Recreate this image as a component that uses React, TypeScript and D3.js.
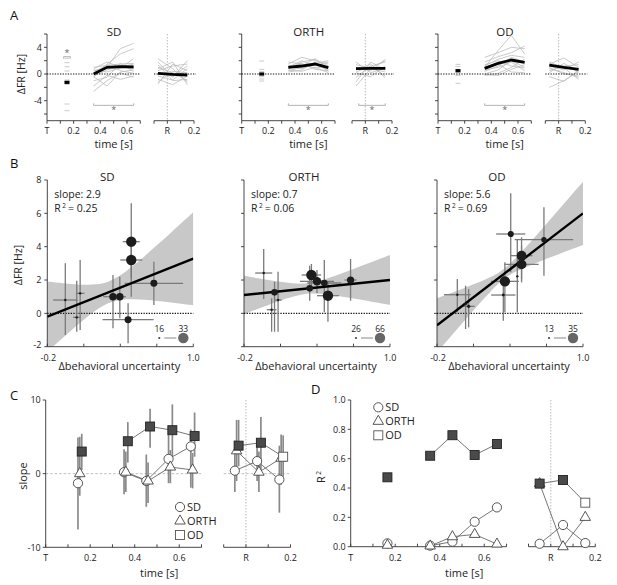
import React from 'react';
import * as d3 from 'd3';

const FONT = "'Open Sans', 'Noto Sans', sans-serif";

// ---------------- Panel A data ----------------
const aTimes = [0.35, 0.45, 0.55, 0.65];
const aRTimes = [-0.07, 0.04, 0.15];
const aCueTime = 0.15;

const sdCueDashes = [2.35, 1.7, 1.1, 0.45, -0.9, -1.15, -1.55, -4.5, -5.5];
const sdCueMean = -1.25;
const sdLines = [
  [0.5, 1.0, 3.8, 4.6], [-0.5, 1.5, 3.0, 3.8], [1.0, 1.3, 1.5, 1.6], [0.8, 1.8, 1.0, 1.5],
  [-0.3, 0.6, 1.2, 1.2], [-1.0, -0.5, 1.6, 0.4], [-2.6, -1.0, 0.2, -0.5], [-1.8, -0.2, -0.8, -0.3],
  [0.2, 1.4, 0.5, 0.1], [-0.4, -1.8, 0.3, 0.6], [0.6, 0.3, 0.9, 2.3],
];
const sdMean = [0.0, 1.0, 1.1, 1.05];
const sdRLines = [
  [1.8, -0.5, 2.0], [2.3, 0.8, -1.2], [-1.5, 1.5, 0.5], [0.5, 1.2, 1.5], [-0.8, -1.6, -0.3],
  [1.0, 0.2, -1.0], [-0.3, -0.9, 0.8], [0.8, 1.8, -1.6], [-1.2, 0.4, 0.2], [0.2, -0.3, 1.2], [1.4, -1.0, -0.8],
];
const sdRMean = [0.1, -0.05, -0.15];

const orthCueDashes = [1.95, 0.7, 0.35, -0.4, -0.75, -1.05];
const orthCueMean = 0.0;
const orthLines = [
  [1.5, 2.5, 2.0, 1.5], [0.8, 1.8, 2.2, 1.2], [1.2, 0.8, 1.6, 2.0], [0.5, 1.0, 1.4, 0.6],
  [1.8, 1.5, 0.9, 1.1], [0.3, 0.6, 1.8, 0.4], [1.0, 2.0, 1.2, 1.8], [0.6, 0.4, 1.0, 0.2],
  [1.3, 1.2, 2.3, 0.8], [0.9, 1.6, 0.7, 0.5],
];
const orthMean = [1.0, 1.2, 1.5, 0.95];
const orthRLines = [
  [1.0, 0.5, 2.2], [-1.8, 0.8, 0.3], [0.6, 1.5, -0.6], [-0.5, 1.2, 1.8], [1.8, 0.2, 0.9],
  [0.2, -0.4, 1.2], [-1.2, 1.8, 0.6], [1.4, 0.9, 2.0], [0.3, 1.2, -0.3],
];
const orthRMean = [0.8, 0.85, 0.85];

const odCueDashes = [1.45, 1.1, 0.7, 0.2, -0.2, -1.4];
const odCueMean = 0.5;
const odLines = [
  [1.0, 3.5, 5.8, 3.0], [2.5, 3.2, 4.0, 3.8], [1.8, 2.6, 3.2, 4.2], [0.4, 1.2, 2.5, 1.8],
  [-0.2, 0.1, 1.0, 2.2], [1.4, 2.0, 1.2, 0.9], [0.0, 0.6, 2.0, 1.0], [0.8, 1.5, 0.3, 0.2],
  [-0.1, -0.2, 0.7, 1.4], [0.6, 1.0, 1.8, 0.5], [1.2, 2.2, 2.8, 2.5],
];
const odMean = [0.85, 1.6, 2.1, 1.75];
const odRLines = [
  [1.5, 2.4, 1.0], [-2.0, -1.0, 0.4], [0.8, 0.2, -0.5], [1.2, 0.6, 1.8], [0.2, 1.6, 0.2],
  [1.8, 0.9, -0.8], [-0.4, -1.1, 0.6], [0.5, 1.2, 1.4], [1.0, 0.0, -0.3],
];
const odRMean = [1.35, 1.0, 0.7];

const aYTicks = [-6, -4, -2, 0, 2, 4, 6];
const aYLabels = [-4, 0, 4];
const aXTicks = [0, 0.1, 0.2, 0.3, 0.4, 0.5, 0.6, 0.7];
const aXLabels = [{ v: 0, t: 'T' }, { v: 0.2, t: '0.2' }, { v: 0.4, t: '0.4' }, { v: 0.6, t: '0.6' }];
const aRTicks = [-0.1, 0, 0.1, 0.2];
const aRLabels = [{ v: 0, t: 'R' }, { v: 0.2, t: '0.2' }];

// ---------------- Panel B data ----------------
const bBandX = [-0.2, -0.1, 0, 0.1, 0.2, 0.3, 0.4, 0.5, 0.6, 0.7, 0.8, 0.9, 1.0];

const sdBandUpper = [1.91, 1.83, 1.76, 1.72, 1.74, 1.9, 2.28, 2.82, 3.43, 4.08, 4.73, 5.4, 6.07];
const sdBandLower = [-2.31, -1.65, -1.0, -0.38, 0.18, 0.6, 0.8, 0.84, 0.81, 0.74, 0.67, 0.58, 0.49];
const sdFitEnds = [-0.2, 3.28];
const sdPtX = [-0.052, 0.042, 0.07, 0.34, 0.396, 0.49, 0.49, 0.676, 0.464];
const sdPtY = [0.8, -0.24, 1.2, 1.0, 1.0, 4.3, 3.2, 1.8, -0.38];
const sdPtXErr = [0.1, 0.03, 0.035, 0.08, 0.05, 0.07, 0.09, 0.24, 0.21];
const sdPtYLo = [-1.3, -1.1, -1.0, -0.9, -0.3, 2.1, 1.0, 0.5, -1.8];
const sdPtYHi = [3.0, 1.95, 3.2, 2.3, 2.2, 6.6, 4.5, 3.1, 0.6];
const sdPtN = [16, 16, 16, 26, 26, 33, 33, 25, 25];

const orthBandUpper = [2.25, 2.12, 2.0, 1.89, 1.8, 1.79, 1.91, 2.13, 2.39, 2.66, 2.94, 3.22, 3.5];
const orthBandLower = [-0.05, 0.23, 0.5, 0.77, 1.0, 1.16, 1.19, 1.12, 1.01, 0.89, 0.77, 0.63, 0.5];
const orthFitEnds = [1.1, 2.0];
const orthPtX = [-0.038, 0.051, 0.027, 0.08, 0.34, 0.354, 0.40, 0.46, 0.49, 0.676];
const orthPtY = [2.42, 1.26, 0.22, 0.8, 1.5, 2.3, 1.92, 1.82, 1.06, 2.0];
const orthPtXErr = [0.07, 0.03, 0.04, 0.03, 0.03, 0.08, 0.14, 0.14, 0.09, 0.05];
const orthPtYLo = [0.86, -1.1, -1.1, -1.1, 0.76, 1.5, 1.2, 0.06, -0.5, 0.76];
const orthPtYHi = [3.86, 1.9, 0.9, 2.5, 2.86, 2.96, 2.6, 3.2, 1.9, 3.26];
const orthPtN = [26, 45, 26, 26, 45, 66, 55, 45, 66, 48];

const odBandUpper = [0.9, 1.17, 1.45, 1.74, 2.05, 2.41, 2.97, 3.73, 4.54, 5.37, 6.21, 7.06, 7.9];
const odBandLower = [-2.33, -1.49, -0.65, 0.18, 0.99, 1.75, 2.31, 2.67, 2.98, 3.27, 3.55, 3.83, 4.1];
const odFitEnds = [-0.72, 6.0];
const odPtX = [-0.033, 0.035, 0.06, 0.358, 0.345, 0.406, 0.46, 0.495, 0.495, 0.679];
const odPtY = [1.12, 0.56, 0.42, 1.92, 1.1, 4.76, 2.22, 3.46, 2.94, 4.42];
const odPtXErr = [0.11, 0.02, 0.05, 0.115, 0.1, 0.12, 0.0, 0.09, 0.14, 0.24];
const odPtYLo = [0.06, -0.94, -0.84, 0.06, -0.44, 2.46, 0.06, 2.06, 1.86, 2.26];
const odPtYHi = [2.06, 1.66, 1.46, 3.06, 2.36, 7.2, 4.46, 4.56, 4.06, 6.36];
const odPtN = [13, 13, 15, 35, 14, 22, 13, 33, 33, 20];

const bYTicks = [-2, 0, 2, 4, 6, 8];
const bXTicks = [-0.2, 0.1, 0.4, 0.7, 1.0];

// ---------------- Panel C data (slope) ----------------
const cTimesT = [0.145, 0.352, 0.452, 0.552, 0.652];
const cTimesR = [-0.05, 0.05, 0.15];
const sdSlopeT = [-1.3, 0.2, -1.0, 2.0, 3.7];
const sdSlopeR = [0.4, 1.7, -0.8];
const sdSlopeLoT = [-7.6, -2.8, -4.5, -1.3, -1.9];
const sdSlopeHiT = [4.9, 3.3, 2.6, 5.3, 6.0];
const sdSlopeLoR = [-2.5, -1.0, -5.3];
const sdSlopeHiR = [4.5, 4.0, 3.8];
const orthSlopeT = [0.0, 0.2, -1.0, 0.9, 0.5];
const orthSlopeR = [3.1, 0.2, 2.1];
const orthSlopeLoT = [-3.0, -2.5, -4.0, -1.3, -2.0];
const orthSlopeHiT = [5.0, 3.0, 1.5, 3.2, 2.8];
const orthSlopeLoR = [-1.0, -2.5, -1.5];
const orthSlopeHiR = [7.3, 3.0, 5.3];
const odSlopeT = [3.0, 4.4, 6.4, 5.9, 5.1];
const odSlopeR = [3.8, 4.2, 2.3];
const odSlopeLoT = [0.5, 1.5, 3.5, 2.4, 2.3];
const odSlopeHiT = [5.4, 7.0, 8.8, 9.4, 8.3];
const odSlopeLoR = [1.0, 0.5, -0.5];
const odSlopeHiR = [7.3, 7.7, 5.2];
const odFilledT = [true, true, true, true, true];
const odFilledR = [true, true, false];

// ---------------- Panel D data (R²) ----------------
const dTimesT = [0.165, 0.357, 0.457, 0.557, 0.657];
const dTimesR = [-0.05, 0.055, 0.155];
const sdR2T = [0.023, 0.007, 0.034, 0.17, 0.268];
const sdR2R = [0.02, 0.148, 0.025];
const orthR2T = [0.01, 0.005, 0.068, 0.084, 0.018];
const orthR2R = [0.43, 0.0, 0.2];
const odR2T = [0.473, 0.62, 0.76, 0.625, 0.7];
const odR2R = [0.43, 0.455, 0.3];

const legendNames = ['SD', 'ORTH', 'OD'];

// ---------------- helpers ----------------
const TICK_COLOR = '#333';
const GRAY_LINE = '#bdbdbd';

function Marker({ kind, x, y, filled }: { kind: string; x: number; y: number; filled?: boolean }) {
  const stroke = '#444';
  if (kind === 'circle') {
    return <circle cx={x} cy={y} r={4.6} fill="#fff" stroke={stroke} strokeWidth={0.9} />;
  }
  if (kind === 'triangle') {
    const s = 10.5;
    const pts = [
      [x, y - s * 0.577],
      [x - s / 2, y + s * 0.289],
      [x + s / 2, y + s * 0.289],
    ];
    return <polygon points={pts.map((p) => p.join(',')).join(' ')} fill="#fff" stroke={stroke} strokeWidth={0.9} />;
  }
  const s = 9;
  return (
    <rect x={x - s / 2} y={y - s / 2} width={s} height={s} fill={filled ? '#4a4a4a' : '#fff'}
      stroke={filled ? '#222' : '#555'} strokeWidth={0.9} />
  );
}

// ---------------- Panel A ----------------
function PanelA(props: any) {
  const { left, gap, title, cueDashes, cueMean, lines, mean, rLines, rMean, showY, cueBracket, rBracket } = props;
  const y = d3.scaleLinear().domain([-7, 6]).range([120.7, 34]);
  const xT = d3.scaleLinear().domain([0, 0.7]).range([left, left + 93.3]);
  const r0 = left + 93.3 + gap;
  const xR = d3.scaleLinear().domain([-0.1, 0.2]).range([r0, r0 + 40]);
  const lineT = d3.line<number>().x((_, i) => xT(aTimes[i])).y((v) => y(v));
  const lineR = d3.line<number>().x((_, i) => xR(aRTimes[i])).y((v) => y(v));
  const axisY = y(-7);
  const bracketY = y(-4.7);
  return (
    <g>
      <text x={left + 67} y={36} fontSize={11.5} textAnchor="middle" fill="#222">{title}</text>
      {/* y axis */}
      <line x1={left} x2={left} y1={y(6)} y2={axisY} stroke={TICK_COLOR} strokeWidth={0.9} />
      {aYTicks.map((t) => (
        <line key={t} x1={left - 3} x2={left} y1={y(t)} y2={y(t)} stroke={TICK_COLOR} strokeWidth={0.9} />
      ))}
      {showY && aYLabels.map((t) => (
        <text key={t} x={left - 5} y={y(t) + 3.3} fontSize={9} textAnchor="end" fill="#222">{t}</text>
      ))}
      {showY && (
        <text transform={`translate(${left - 22},${y(0)}) rotate(-90)`} fontSize={10.5} textAnchor="middle" fill="#222">ΔFR [Hz]</text>
      )}
      {/* x axes */}
      <line x1={xT(0)} x2={xT(0.7)} y1={axisY} y2={axisY} stroke={TICK_COLOR} strokeWidth={0.9} />
      {aXTicks.map((t) => (
        <line key={t} x1={xT(t)} x2={xT(t)} y1={axisY} y2={axisY + 3} stroke={TICK_COLOR} strokeWidth={0.9} />
      ))}
      {aXLabels.map((l) => (
        <text key={l.t} x={xT(l.v)} y={134} fontSize={9} textAnchor="middle" fill="#222">{l.t}</text>
      ))}
      <line x1={xR(-0.1)} x2={xR(0.2)} y1={axisY} y2={axisY} stroke={TICK_COLOR} strokeWidth={0.9} />
      {aRTicks.map((t) => (
        <line key={t} x1={xR(t)} x2={xR(t)} y1={axisY} y2={axisY + 3} stroke={TICK_COLOR} strokeWidth={0.9} />
      ))}
      {aRLabels.map((l) => (
        <text key={l.t} x={xR(l.v)} y={134} fontSize={9} textAnchor="middle" fill="#222">{l.t}</text>
      ))}
      <text x={xT(0.5)} y={147.5} fontSize={11} textAnchor="middle" fill="#222">time  [s]</text>
      {/* R marker */}
      <line x1={xR(0)} x2={xR(0)} y1={y(6)} y2={axisY} stroke="#aaa" strokeWidth={0.8} strokeDasharray="1.5,1.5" />
      {/* cue dashes */}
      {cueDashes.map((v: number, i: number) => (
        <line key={i} x1={xT(aCueTime) - 2.5} x2={xT(aCueTime) + 2.5} y1={y(v)} y2={y(v)} stroke="#c4c4c4" strokeWidth={0.9} />
      ))}
      {/* gray session lines */}
      {lines.map((l: number[], i: number) => (
        <path key={i} d={lineT(l) || ''} fill="none" stroke={GRAY_LINE} strokeWidth={0.8} />
      ))}
      {rLines.map((l: number[], i: number) => (
        <path key={i} d={lineR(l) || ''} fill="none" stroke={GRAY_LINE} strokeWidth={0.8} />
      ))}
      {/* zero lines */}
      <line x1={xT(0)} x2={xT(0.7)} y1={y(0)} y2={y(0)} stroke="#111" strokeWidth={1.1} strokeDasharray="1.3,1.3" />
      <line x1={xR(-0.1)} x2={xR(0.2) + 2} y1={y(0)} y2={y(0)} stroke="#111" strokeWidth={1.1} strokeDasharray="1.3,1.3" />
      {/* mean lines */}
      <path d={lineT(mean) || ''} fill="none" stroke="#000" strokeWidth={2.8} />
      <path d={lineR(rMean) || ''} fill="none" stroke="#000" strokeWidth={2.8} />
      <rect x={xT(aCueTime) - 2.5} y={y(cueMean) - 1.6} width={5} height={3.2} fill="#000" />
      {/* significance brackets */}
      <path d={`M${xT(0.35)},${bracketY - 2}V${bracketY}H${xT(0.65)}V${bracketY - 2}`} fill="none" stroke="#aaa" strokeWidth={0.9} />
      <text x={xT(0.5)} y={y(-5.3) + 4} fontSize={9} textAnchor="middle" fill="#666">*</text>
      {rBracket && (
        <g>
          <path d={`M${xR(-0.05)},${bracketY - 2}V${bracketY}H${xR(0.15)}V${bracketY - 2}`} fill="none" stroke="#aaa" strokeWidth={0.9} />
          <text x={xR(0.05)} y={y(-5.3) + 4} fontSize={9} textAnchor="middle" fill="#666">*</text>
        </g>
      )}
      {cueBracket && (
        <g>
          <path d={`M${xT(0.125)},${y(2.6) + 2}V${y(2.6)}H${xT(0.175)}V${y(2.6) + 2}`} fill="none" stroke="#aaa" strokeWidth={0.9} />
          <text x={xT(aCueTime)} y={y(3.3) + 4} fontSize={9} textAnchor="middle" fill="#666">*</text>
        </g>
      )}
    </g>
  );
}

// ---------------- Panel B ----------------
function PanelB(props: any) {
  const { left, title, slope, r2, upper, lower, fitEnds, px, py, pxe, pylo, pyhi, pn, nLegend, showY, id } = props;
  const width = 146;
  const y = d3.scaleLinear().domain([-2, 8]).range([346.7, 180]);
  const x = d3.scaleLinear().domain([-0.2, 1.0]).range([left, left + width]);
  const rScale = d3.scaleSqrt().domain(nLegend).range([1.2, 5.2]).clamp(true);
  const area = d3.area<number>()
    .x((_, i) => x(bBandX[i]))
    .y0((_, i) => y(lower[i]))
    .y1((_, i) => y(upper[i]))
    .curve(d3.curveCatmullRom);
  const clipId = `clipB${id}`;
  const idx = d3.range(px.length);
  return (
    <g>
      <defs>
        <clipPath id={clipId}>
          <rect x={left} y={y(8)} width={width} height={y(-2) - y(8)} />
        </clipPath>
      </defs>
      <text x={left + 60} y={181} fontSize={11.5} textAnchor="middle" fill="#222">{title}</text>
      <g clipPath={`url(#${clipId})`}>
        <path d={area(upper) || ''} fill="#c8c8c8" />
      </g>
      {/* axes */}
      <line x1={left} x2={left} y1={y(8)} y2={y(-2)} stroke={TICK_COLOR} strokeWidth={0.9} />
      {bYTicks.map((t) => (
        <line key={t} x1={left - 3} x2={left} y1={y(t)} y2={y(t)} stroke={TICK_COLOR} strokeWidth={0.9} />
      ))}
      {showY && bYTicks.map((t) => (
        <text key={t} x={left - 6} y={y(t) + (t === -2 ? 1.5 : 3.3)} fontSize={9} textAnchor="end" fill="#222">{t}</text>
      ))}
      {showY && (
        <text transform={`translate(${left - 25},${265}) rotate(-90)`} fontSize={10.5} textAnchor="middle" fill="#222">ΔFR [Hz]</text>
      )}
      <line x1={left} x2={left + width} y1={y(-2)} y2={y(-2)} stroke={TICK_COLOR} strokeWidth={0.9} />
      {bXTicks.map((t) => (
        <line key={t} x1={x(t)} x2={x(t)} y1={y(-2)} y2={y(-2) - 3} stroke={TICK_COLOR} strokeWidth={0.9} />
      ))}
      <text x={x(-0.2) + 1} y={361} fontSize={9} textAnchor="middle" fill="#222">-0.2</text>
      <text x={x(1.0)} y={361} fontSize={9} textAnchor="middle" fill="#222">1.0</text>
      <text x={left + 72} y={369.5} fontSize={11} textAnchor="middle" fill="#222">Δbehavioral uncertainty</text>
      {/* zero line */}
      <line x1={left} x2={left + width} y1={y(0)} y2={y(0)} stroke="#111" strokeWidth={1.1} strokeDasharray="1.3,1.3" />
      {/* error bars */}
      {idx.map((i) => (
        <g key={i} stroke="#7a7a7a" strokeWidth={1.3}>
          <line x1={x(px[i])} x2={x(px[i])} y1={y(pylo[i])} y2={y(pyhi[i])} />
          {pxe[i] > 0 && <line x1={x(px[i] - pxe[i])} x2={x(px[i] + pxe[i])} y1={y(py[i])} y2={y(py[i])} />}
        </g>
      ))}
      {/* fit line */}
      <g clipPath={`url(#${clipId})`}>
        <line x1={x(-0.2)} x2={x(1.0)} y1={y(fitEnds[0])} y2={y(fitEnds[1])} stroke="#000" strokeWidth={2.4} />
      </g>
      {/* points */}
      {idx.map((i) => (
        <circle key={i} cx={x(px[i])} cy={y(py[i])} r={rScale(pn[i])} fill="#1c1c1c" />
      ))}
      {/* stats */}
      <text x={left + 7} y={198} fontSize={10.5} fill="#222">slope: {slope}</text>
      <text x={left + 7} y={211.5} fontSize={10.5} fill="#222">
        R<tspan fontSize={6.5} dx={1.5} dy={-4}>2</tspan><tspan dy={4} dx={2}>= {r2}</tspan>
      </text>
      {/* size legend */}
      <text x={left + 112} y={332} fontSize={8.5} textAnchor="middle" fill="#222">{nLegend[0]}</text>
      <text x={left + 136} y={332} fontSize={8.5} textAnchor="middle" fill="#222">{nLegend[1]}</text>
      <circle cx={left + 112} cy={338} r={1.1} fill="#444" />
      <line x1={left + 117} x2={left + 129} y1={338} y2={338} stroke="#888" strokeWidth={1} />
      <circle cx={left + 136} cy={338} r={5.2} fill="#666" />
    </g>
  );
}

// ---------------- Panels C and D ----------------
function TimePanel(props: any) {
  const { left, xT, xR, y, yTicks, yTickLabels, yLabel, hLine, series, legendPos, errors } = props;
  const axisY = y.range()[0];
  const topY = y.range()[1];
  const tTicks = [0, 0.1, 0.2, 0.3, 0.4, 0.5, 0.6, 0.7];
  const rTicks = [-0.1, 0, 0.1, 0.2];
  return (
    <g>
      {hLine && (
        <g stroke="#b5b5b5" strokeWidth={0.9} strokeDasharray="2.5,2">
          <line x1={xT(0)} x2={xT(0.7)} y1={y(0)} y2={y(0)} />
          <line x1={xR(-0.1)} x2={xR(0.2)} y1={y(0)} y2={y(0)} />
        </g>
      )}
      <line x1={xR(0)} x2={xR(0)} y1={topY} y2={axisY} stroke="#aaa" strokeWidth={0.8} strokeDasharray="1.5,1.5" />
      {/* axes */}
      <line x1={left} x2={left} y1={topY} y2={axisY} stroke={TICK_COLOR} strokeWidth={0.9} />
      {yTicks.map((t: number, i: number) => (
        <g key={t}>
          <line x1={left - 3} x2={left} y1={y(t)} y2={y(t)} stroke={TICK_COLOR} strokeWidth={0.9} />
          <text x={left - 5} y={y(t) + 3.3} fontSize={9} textAnchor="end" fill="#222">{yTickLabels[i]}</text>
        </g>
      ))}
      <line x1={xT(0)} x2={xT(0.7)} y1={axisY} y2={axisY} stroke={TICK_COLOR} strokeWidth={0.9} />
      {tTicks.map((t) => (
        <line key={t} x1={xT(t)} x2={xT(t)} y1={axisY} y2={axisY - 3} stroke={TICK_COLOR} strokeWidth={0.9} />
      ))}
      <line x1={xR(-0.1)} x2={xR(0.2)} y1={axisY} y2={axisY} stroke={TICK_COLOR} strokeWidth={0.9} />
      {rTicks.map((t) => (
        <line key={t} x1={xR(t)} x2={xR(t)} y1={axisY} y2={axisY - 3} stroke={TICK_COLOR} strokeWidth={0.9} />
      ))}
      {aXLabels.map((l) => (
        <text key={l.t} x={xT(l.v)} y={561} fontSize={9} textAnchor="middle" fill="#222">{l.t}</text>
      ))}
      {aRLabels.map((l) => (
        <text key={l.t} x={xR(l.v)} y={561} fontSize={9} textAnchor="middle" fill="#222">{l.t}</text>
      ))}
      <text x={xT(0.51)} y={577} fontSize={11} textAnchor="middle" fill="#222">time  [s]</text>
      {yLabel}
      {/* error bars */}
      {errors && series.map((s: any, si: number) => (
        <g key={si} stroke="#8a8a8a" strokeWidth={1.7}>
          {s.tVals.map((_: number, i: number) => (
            <line key={'t' + i} x1={xT(s.tTimes[i])} x2={xT(s.tTimes[i])} y1={y(s.tLo[i])} y2={y(s.tHi[i])} />
          ))}
          {s.rVals.map((_: number, i: number) => (
            <line key={'r' + i} x1={xR(s.rTimes[i])} x2={xR(s.rTimes[i])} y1={y(s.rLo[i])} y2={y(s.rHi[i])} />
          ))}
        </g>
      ))}
      {/* connecting lines */}
      {series.map((s: any, si: number) => {
        const lt = d3.line<number>().x((_, i) => xT(s.tTimes[i + 1])).y((v) => y(v));
        const lr = d3.line<number>().x((_, i) => xR(s.rTimes[i])).y((v) => y(v));
        return (
          <g key={si} fill="none" stroke="#666" strokeWidth={0.9}>
            <path d={lt(s.tVals.slice(1)) || ''} />
            <path d={lr(s.rVals) || ''} />
          </g>
        );
      })}
      {/* markers */}
      {series.map((s: any, si: number) => (
        <g key={si}>
          {s.tVals.map((v: number, i: number) => (
            <Marker key={'t' + i} kind={s.kind} x={xT(s.tTimes[i])} y={y(v)} filled={s.tFilled ? s.tFilled[i] : false} />
          ))}
          {s.rVals.map((v: number, i: number) => (
            <Marker key={'r' + i} kind={s.kind} x={xR(s.rTimes[i])} y={y(v)} filled={s.rFilled ? s.rFilled[i] : false} />
          ))}
        </g>
      ))}
      {/* legend */}
      {['circle', 'triangle', 'square'].map((k, i) => (
        <g key={k}>
          <Marker kind={k} x={legendPos[0]} y={legendPos[1] + i * 14} filled={false} />
          <text x={legendPos[0] + 7} y={legendPos[1] + i * 14 + 4} fontSize={11} fill="#222">{legendNames[i]}</text>
        </g>
      ))}
    </g>
  );
}

export default function App() {
  const cY = d3.scaleLinear().domain([-10, 10]).range([547.3, 400]);
  const cXT = d3.scaleLinear().domain([0, 0.7]).range([45.7, 201.5]);
  const cXR = d3.scaleLinear().domain([-0.1, 0.2]).range([223.7, 290.5]);
  const dY = d3.scaleLinear().domain([0, 1]).range([546.7, 400]);
  const dXT = d3.scaleLinear().domain([0, 0.7]).range([350.7, 506.5]);
  const dXR = d3.scaleLinear().domain([-0.1, 0.2]).range([528.5, 595.3]);

  const off = (arr: number[], d: number) => arr.map((t) => t + d);

  const cSeries = [
    { kind: 'circle', tTimes: cTimesT, rTimes: cTimesR, tVals: sdSlopeT, rVals: sdSlopeR, tLo: sdSlopeLoT, tHi: sdSlopeHiT, rLo: sdSlopeLoR, rHi: sdSlopeHiR },
    { kind: 'triangle', tTimes: off(cTimesT, 0.008), rTimes: off(cTimesR, 0.008), tVals: orthSlopeT, rVals: orthSlopeR, tLo: orthSlopeLoT, tHi: orthSlopeHiT, rLo: orthSlopeLoR, rHi: orthSlopeHiR },
    { kind: 'square', tTimes: off(cTimesT, 0.017), rTimes: off(cTimesR, 0.017), tVals: odSlopeT, rVals: odSlopeR, tLo: odSlopeLoT, tHi: odSlopeHiT, rLo: odSlopeLoR, rHi: odSlopeHiR, tFilled: odFilledT, rFilled: odFilledR },
  ];
  const dSeries = [
    { kind: 'circle', tTimes: dTimesT, rTimes: dTimesR, tVals: sdR2T, rVals: sdR2R },
    { kind: 'triangle', tTimes: dTimesT, rTimes: dTimesR, tVals: orthR2T, rVals: orthR2R },
    { kind: 'square', tTimes: dTimesT, rTimes: dTimesR, tVals: odR2T, rVals: odR2R, tFilled: odFilledT, rFilled: odFilledR },
  ];

  return (
    <svg width={617} height={585} style={{ position: 'absolute', left: 0, top: 0, background: '#fff', fontFamily: FONT }}>
      <rect width={617} height={585} fill="#fff" />
      <g fontFamily={FONT}>
        <text x={10} y={20} fontSize={13} fill="#111">A</text>
        <text x={10} y={168} fontSize={13} fill="#111">B</text>
        <text x={10} y={400} fontSize={13} fill="#111">C</text>
        <text x={311} y={394} fontSize={13} fill="#111">D</text>

        <PanelA left={47} gap={13.7} title="SD" cueDashes={sdCueDashes} cueMean={sdCueMean} lines={sdLines} mean={sdMean}
          rLines={sdRLines} rMean={sdRMean} showY cueBracket />
        <PanelA left={241.7} gap={17} title="ORTH" cueDashes={orthCueDashes} cueMean={orthCueMean} lines={orthLines} mean={orthMean}
          rLines={orthRLines} rMean={orthRMean} rBracket />
        <PanelA left={438} gap={14} title="OD" cueDashes={odCueDashes} cueMean={odCueMean} lines={odLines} mean={odMean}
          rLines={odRLines} rMean={odRMean} />

        <PanelB id="sd" left={47.3} title="SD" slope="2.9" r2="0.25" upper={sdBandUpper} lower={sdBandLower} fitEnds={sdFitEnds}
          px={sdPtX} py={sdPtY} pxe={sdPtXErr} pylo={sdPtYLo} pyhi={sdPtYHi} pn={sdPtN} nLegend={[16, 33]} showY />
        <PanelB id="orth" left={244} title="ORTH" slope="0.7" r2="0.06" upper={orthBandUpper} lower={orthBandLower} fitEnds={orthFitEnds}
          px={orthPtX} py={orthPtY} pxe={orthPtXErr} pylo={orthPtYLo} pyhi={orthPtYHi} pn={orthPtN} nLegend={[26, 66]} />
        <PanelB id="od" left={437} title="OD" slope="5.6" r2="0.69" upper={odBandUpper} lower={odBandLower} fitEnds={odFitEnds}
          px={odPtX} py={odPtY} pxe={odPtXErr} pylo={odPtYLo} pyhi={odPtYHi} pn={odPtN} nLegend={[13, 35]} />

        <TimePanel left={45.7} xT={cXT} xR={cXR} y={cY} yTicks={[-10, 0, 10]} yTickLabels={['-10', '0', '10']} hLine errors
          series={cSeries} legendPos={[180, 507]}
          yLabel={<text transform="translate(27,476) rotate(-90)" fontSize={11} textAnchor="middle" fill="#222">slope</text>} />
        <TimePanel left={350.7} xT={dXT} xR={dXR} y={dY} yTicks={[0, 0.2, 0.4, 0.6, 0.8, 1.0]}
          yTickLabels={['0.0', '0.2', '0.4', '0.6', '0.8', '1.0']} series={dSeries} legendPos={[378.3, 407.3]}
          yLabel={<text transform="translate(325,477) rotate(-90)" fontSize={11} textAnchor="middle" fill="#222">R<tspan fontSize={6.5} dx={1.5} dy={-4}>2</tspan></text>} />
      </g>
    </svg>
  );
}
